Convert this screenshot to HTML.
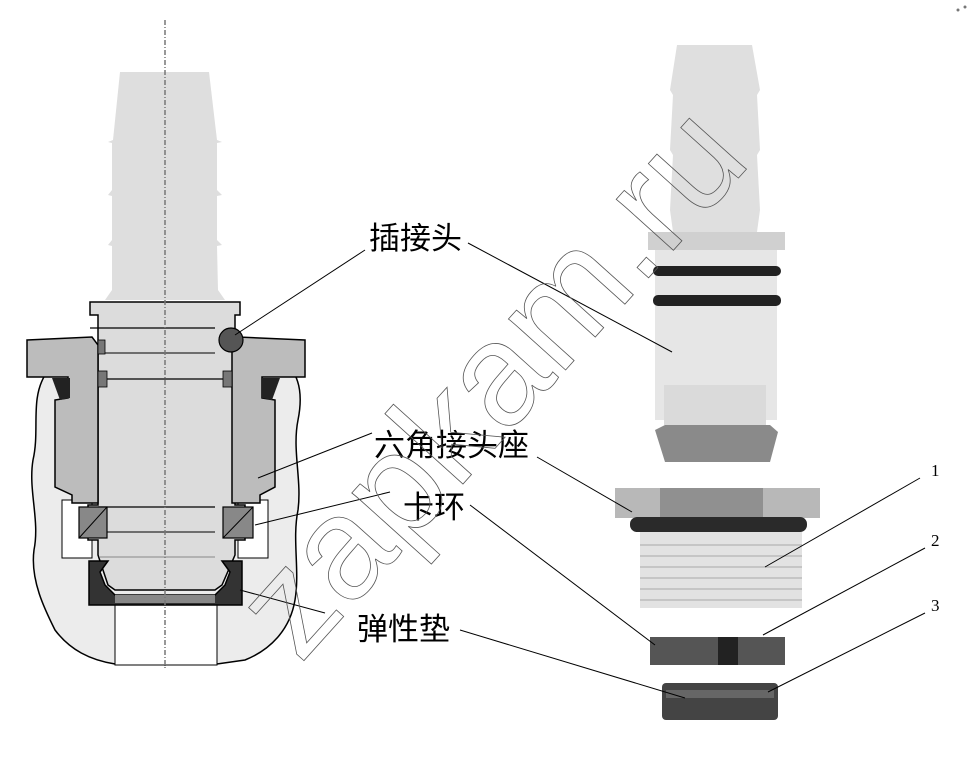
<!DOCTYPE html>
<html><head><meta charset="utf-8"><style>
html,body{margin:0;padding:0;background:#fff;}
svg{display:block;}
.cn{font-family:"Liberation Sans","Noto Sans CJK SC",sans-serif;font-size:31px;fill:#000;}
.num{font-family:"Liberation Serif",serif;font-size:17px;fill:#000;}
</style></head><body>
<svg width="978" height="760" viewBox="0 0 978 760" xmlns="http://www.w3.org/2000/svg">
<path d="M45,375 C30,400 40,430 33,460 C28,490 40,520 34,550 C30,580 45,610 55,630 C70,650 90,660 115,664 L140,660 L165,665 L190,660 L217,664 L245,660 C270,650 290,630 295,600 C300,570 292,540 298,510 C302,480 292,450 298,420 C302,400 300,385 295,375 Z" fill="#ececec" stroke="#000" stroke-width="1.5"/>
<rect x="115" y="604" width="102" height="61" fill="#fff" stroke="#000" stroke-width="1"/>
<rect x="62" y="500" width="30" height="58" fill="#fff" stroke="#000" stroke-width="1"/>
<rect x="238" y="500" width="30" height="58" fill="#fff" stroke="#000" stroke-width="1"/>
<path d="M120,72 L209,72 L217,140 L222,142 L217,143 L217,190 L222,195 L217,196 L217,240 L222,245 L217,246 L218,290 L225,300 L105,300 L112,290 L112,246 L108,245 L112,240 L112,196 L108,195 L112,190 L112,143 L108,142 L113,140 Z" fill="#dedede"/>
<path d="M90,302 L240,302 L240,315 L235,315 L235,505 L245,505 L245,540 L235,540 L235,555 L222,585 L215,590 L115,590 L108,585 L98,555 L98,540 L88,540 L88,505 L98,505 L98,315 L90,315 Z" fill="#dcdcdc" stroke="#000" stroke-width="1.5"/>
<line x1="90" y1="328" x2="215" y2="328" stroke="#000" stroke-width="1.2"/>
<line x1="98" y1="353" x2="215" y2="353" stroke="#000" stroke-width="1"/>
<line x1="98" y1="379" x2="245" y2="379" stroke="#000" stroke-width="1.2"/>
<line x1="98" y1="507" x2="215" y2="507" stroke="#000" stroke-width="1.2"/>
<line x1="90" y1="532" x2="215" y2="532" stroke="#000" stroke-width="1"/>
<line x1="100" y1="557" x2="215" y2="557" stroke="#888" stroke-width="1"/>
<path d="M27,340 L92,337 L98,345 L98,503 L72,503 L72,495 L55,487 L55,400 L68,398 L68,377 L27,377 Z" fill="#bcbcbc" stroke="#000" stroke-width="1.5"/>
<path d="M305,340 L238,337 L232,345 L232,503 L260,503 L260,495 L275,487 L275,400 L262,398 L262,377 L305,377 Z" fill="#bcbcbc" stroke="#000" stroke-width="1.5"/>
<path d="M52,378 L70,378 L70,398 L60,400 Z" fill="#222"/>
<path d="M280,378 L262,378 L262,398 L272,400 Z" fill="#222"/>
<rect x="98" y="340" width="7" height="14" fill="#777" stroke="#000" stroke-width=".8"/>
<rect x="98" y="371" width="9" height="16" fill="#777" stroke="#000" stroke-width=".8"/>
<rect x="223" y="371" width="9" height="16" fill="#777" stroke="#000" stroke-width=".8"/>
<circle cx="231" cy="340" r="12" fill="#555" stroke="#000" stroke-width="1.2"/>
<rect x="79" y="507" width="28" height="31" fill="#888" stroke="#000" stroke-width="1.2"/>
<line x1="79" y1="538" x2="107" y2="507" stroke="#000"/>
<rect x="223" y="507" width="30" height="31" fill="#888" stroke="#000" stroke-width="1.2"/>
<line x1="223" y1="538" x2="253" y2="507" stroke="#000"/>
<path d="M89,561 L108,561 L100,572 L105,585 L115,595 L215,595 L225,585 L230,572 L222,561 L242,561 L242,605 L89,605 Z" fill="#333" stroke="#000" stroke-width="1.5"/>
<rect x="115" y="595" width="100" height="8" fill="#888"/>
<line x1="165" y1="20" x2="165" y2="670" stroke="#777" stroke-width="1.5" stroke-dasharray="5,2,1,2"/>

<path d="M677,45 L752,45 L760,90 L757,95 L760,150 L757,155 L760,210 L757,232 L673,232 L670,210 L673,155 L670,150 L673,95 L670,90 Z" fill="#dfdfdf"/>
<rect x="648" y="232" width="137" height="18" fill="#d0d0d0"/>
<rect x="655" y="250" width="122" height="170" fill="#e6e6e6"/>
<rect x="653" y="266" width="128" height="10" rx="5" fill="#222"/>
<rect x="653" y="295" width="128" height="11" rx="5" fill="#222"/>
<rect x="664" y="385" width="102" height="40" fill="#dadada"/>
<path d="M655,430 L665,425 L770,425 L778,432 L770,462 L665,462 Z" fill="#8a8a8a"/>
<rect x="615" y="488" width="205" height="30" fill="#b8b8b8"/>
<rect x="660" y="488" width="103" height="30" fill="#909090"/>
<rect x="630" y="517" width="177" height="15" rx="7" fill="#2a2a2a"/>
<rect x="640" y="532" width="162" height="76" fill="#e2e2e2"/>
<g stroke="#bbb" stroke-width="1.5">
<line x1="640" y1="545" x2="802" y2="545"/><line x1="640" y1="556" x2="802" y2="556"/><line x1="640" y1="567" x2="802" y2="567"/><line x1="640" y1="578" x2="802" y2="578"/><line x1="640" y1="589" x2="802" y2="589"/><line x1="640" y1="600" x2="802" y2="600"/>
</g>
<rect x="650" y="637" width="135" height="28" fill="#555"/>
<rect x="718" y="637" width="20" height="28" fill="#222"/>
<rect x="662" y="683" width="116" height="37" rx="4" fill="#444"/>
<rect x="666" y="690" width="108" height="8" fill="#666"/>

<g stroke="#000" stroke-width="1">
<line x1="365" y1="250" x2="235" y2="335"/>
<line x1="468" y1="243" x2="672" y2="352"/>
<line x1="372" y1="433" x2="258" y2="478"/>
<line x1="537" y1="457" x2="632" y2="512"/>
<line x1="390" y1="492" x2="255" y2="525"/>
<line x1="470" y1="505" x2="655" y2="645"/>
<line x1="325" y1="613" x2="240" y2="590"/>
<line x1="460" y1="630" x2="685" y2="698"/>
<line x1="920" y1="478" x2="765" y2="567"/>
<line x1="925" y1="548" x2="763" y2="635"/>
<line x1="925" y1="613" x2="768" y2="692"/>
</g>
<text class="cn" x="369" y="249">插接头</text>
<text class="cn" x="374" y="456">六角接头座</text>
<text class="cn" x="403" y="518">卡环</text>
<text class="cn" x="357" y="640">弹性垫</text>
<text class="num" x="931" y="476">1</text>
<text class="num" x="931" y="546">2</text>
<text class="num" x="931" y="611">3</text>
<text x="0" y="0" transform="translate(300,665) rotate(-48)" font-family="Liberation Sans, sans-serif" font-size="145" fill="none" stroke="#555" stroke-width="0.8">zapkam.ru</text>
<circle cx="958" cy="10" r="1.5" fill="#777"/><circle cx="965" cy="7" r="1.5" fill="#777"/>
</svg>
</body></html>
